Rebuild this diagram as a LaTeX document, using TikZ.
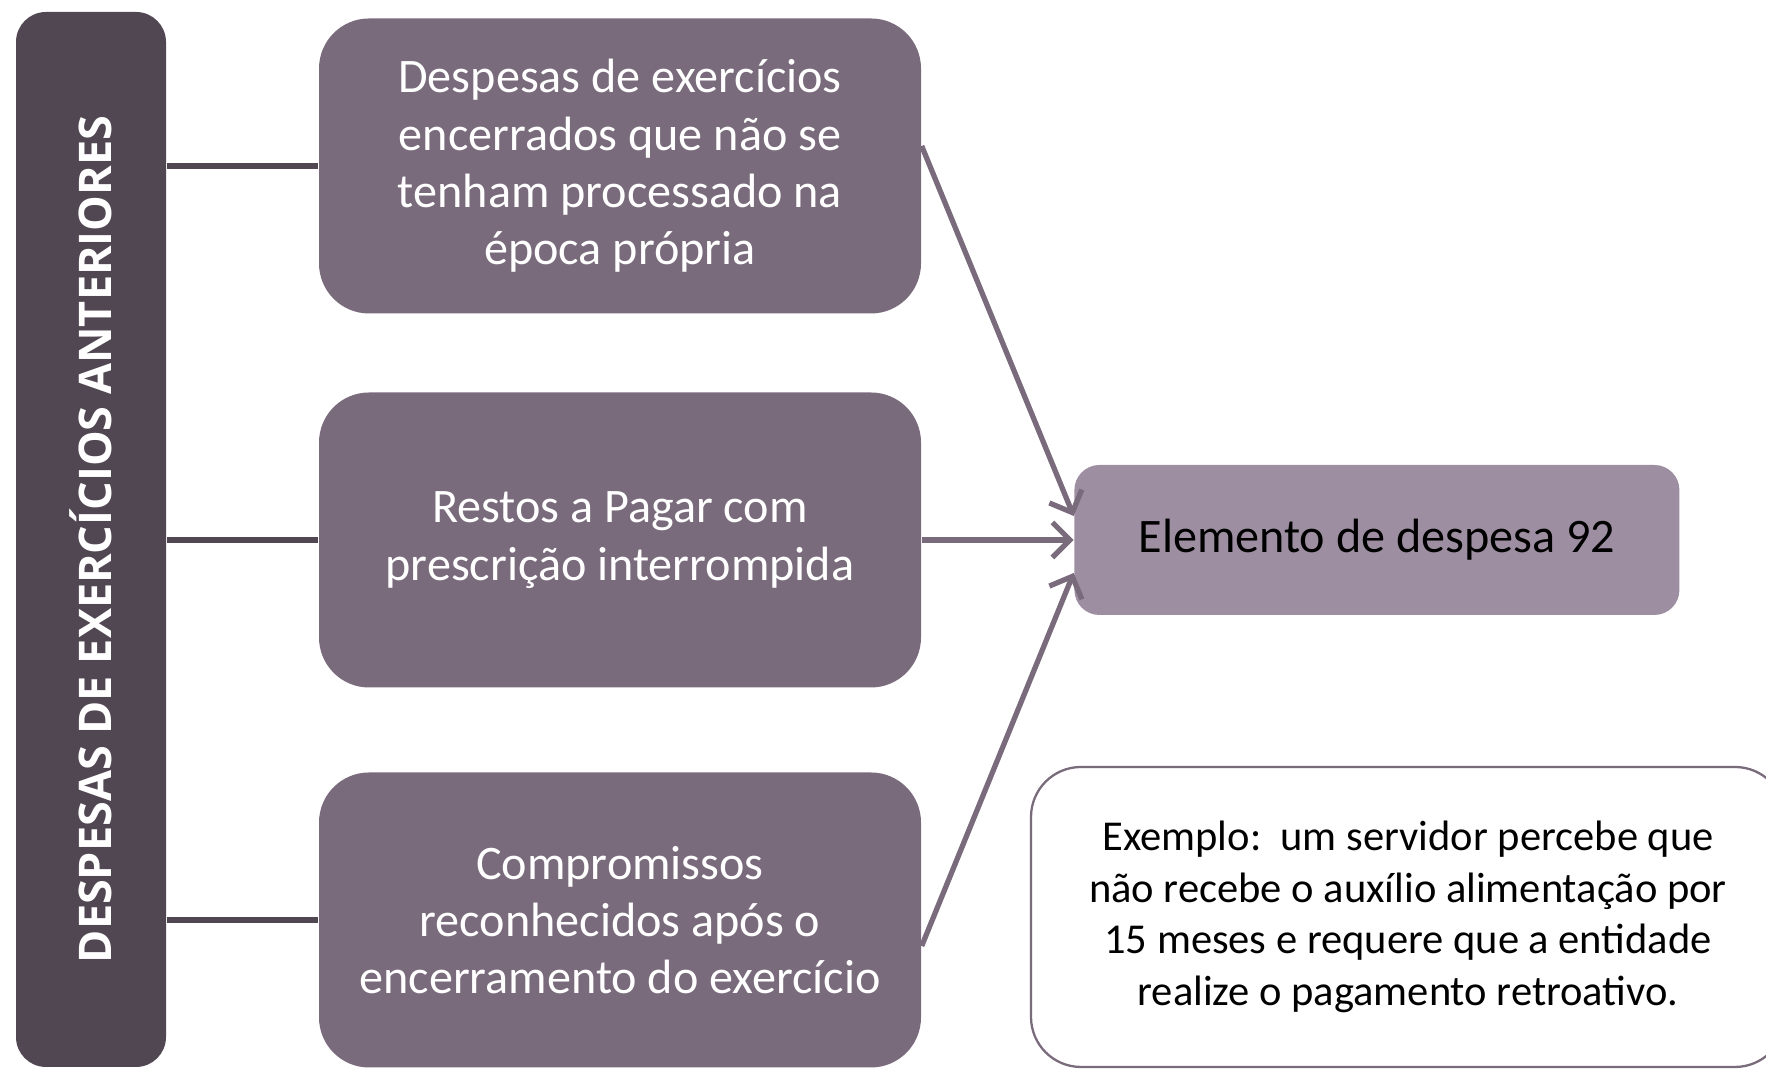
\documentclass[tikz,border=0pt]{standalone}
\usepackage{fontspec}
\setmainfont{Carlito}
\newfontfamily\barfont{Open Sans}
\usetikzlibrary{positioning,calc,arrows.meta}
\definecolor{bardark}{RGB}{81,71,82}
\definecolor{boxmauve}{RGB}{122,107,124}
\definecolor{elemmauve}{RGB}{157,143,161}

\begin{document}
\begin{tikzpicture}[
  catbox/.style={rectangle, rounded corners=0.5cm, fill=boxmauve, text=white,
    minimum width=6.02cm, minimum height=2.95cm, align=center,
    font=\fontsize{13.7}{16.3}\selectfont},
  barline/.style={draw=bardark, line width=1.7pt},
  flowarrow/.style={draw=boxmauve, line width=1.5pt,
    -{Straight Barb[length=5pt,width=10pt]}}]
  \clip (0,0) rectangle (17.66,10.69);
  \node (bar) at (0.91,5.295) [rectangle, rounded corners=0.3cm, fill=bardark,
    minimum width=1.5cm, minimum height=10.55cm]
    {\rotatebox{90}{\color{white}\barfont\bfseries\fontsize{12.8}{16}\selectfont
      DESPESAS DE EXERCÍCIOS ANTERIORES}};
  \node (box1) at (6.20,9.03) [catbox] {Despesas de exercícios\\encerrados que não se\\tenham processado na\\época própria};
  \node (box2) at (6.20,5.29) [catbox] {Restos a Pagar com\\prescrição interrompida};
  \node (box3) at (6.20,1.49) [catbox] {Compromissos\\reconhecidos após o\\encerramento do exercício};
  \node (elem) [right=1.52cm of box2, rectangle, rounded corners=0.25cm, fill=elemmauve,
    minimum width=6.05cm, minimum height=1.5cm,
    font=\fontsize{13.7}{16.3}\selectfont] {Elemento de despesa 92};
  \node (exemplo) at (14.08,1.52) [rectangle, rounded corners=0.5cm, draw=boxmauve,
    line width=0.65pt, fill=white, minimum width=7.54cm, minimum height=3.0cm,
    align=center, font=\fontsize{12.1}{14.65}\selectfont]
    {Exemplo:\ \ um servidor percebe que\\não recebe o auxílio alimentação por\\15 meses e requere que a entidade\\realize o pagamento retroativo.};
  % ligacoes
  \path[barline] (bar.east |- box1.west) edge (box1.west)
    (bar.east |- box2.west) edge (box2.west)
    (bar.east |- box3.west) edge (box3.west);
  \draw[flowarrow] ($(box1.east)+(0,0.2)$) -- ($(elem.west)+(0,0.24)$);
  \draw[flowarrow] (box2.east) -- (elem.west);
  \draw[flowarrow] ($(box3.east)+(0,-0.26)$) -- ($(elem.west)+(0,-0.33)$);
\end{tikzpicture}
\end{document}
